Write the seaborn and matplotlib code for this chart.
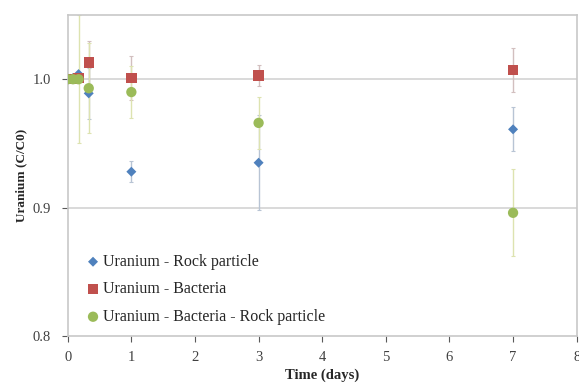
import numpy as np
import pandas as pd
import matplotlib
matplotlib.use("Agg")
import matplotlib.pyplot as plt
import seaborn as sns

# data
time = [0, 0.083, 0.17, 0.33, 1, 3, 7]
rock = [1.000, 1.001, 1.004, 0.989, 0.928, 0.935, 0.961]
rock_err = [0, 0, 0, 0.02, 0.008, 0.037, 0.017]
bact = [1.000, 1.000, 1.001, 1.013, 1.001, 1.003, 1.007]
bact_err = [0, 0, 0, 0.017, 0.017, 0.008, 0.017]
both = [1.000, 1.000, 1.000, 0.993, 0.990, 0.966, 0.896]
both_err = [0, 0, 0.05, 0.035, 0.02, 0.02, 0.034]

names = ["Uranium - Rock particle", "Uranium - Bacteria",
         "Uranium - Bacteria - Rock particle"]
colors = ["#4F81BD", "#C0504D", "#9BBB59"]
err_colors = ["#B8C4D4", "#D2BFBF", "#DDE3B0"]
markers = ["D", "s", "o"]
sizes = [26, 55, 55]

df = pd.concat([
    pd.DataFrame({"t": time, "u": v, "err": e, "series": n})
    for v, e, n in zip([rock, bact, both], [rock_err, bact_err, both_err], names)
])

sns.set_style("white")
plt.rcParams["font.family"] = ["Liberation Serif", "DejaVu Serif"]

fig = plt.figure(figsize=(5.79, 3.85), dpi=100)
ax = fig.add_axes([0.117, 0.127, 0.879, 0.834])

ax.axhline(1.0, color="#D9D9D9", lw=1.4, zorder=0)
ax.axhline(0.9, color="#D9D9D9", lw=1.4, zorder=0)

for n, ec in zip(names, err_colors):
    d = df[df.series == n]
    ax.errorbar(d.t, d.u, yerr=d.err, fmt="none", ecolor=ec, elinewidth=1.0,
                capsize=1.5, capthick=0.8, zorder=1)

for n, c, m, s in zip(names, colors, markers, sizes):
    d = df[df.series == n]
    sns.scatterplot(data=d, x="t", y="u", color=c, marker=m, s=s,
                    edgecolor="none", label=n, ax=ax, zorder=3)

ax.set_xlim(0, 8)
ax.set_ylim(0.8, 1.05)
ax.set_xticks(range(0, 9))
ax.set_yticks([0.8, 0.9, 1.0])
ax.set_yticklabels(["0.8", "0.9", "1.0"])
ax.tick_params(axis="both", labelsize=10.5, colors="#595959", length=4,
               width=0.8, direction="out", left=True, bottom=True)
ax.tick_params(axis="y", pad=8)
ax.tick_params(axis="x", pad=7)
ax.tick_params(axis="both", labelcolor="#404040")
for sp in ax.spines.values():
    sp.set_color("#C8C8C8")
    sp.set_linewidth(1.2)

ax.set_xlabel("Time (days)", fontsize=10.5, fontweight="bold", labelpad=3)
ax.set_ylabel("Uranium (C/C0)", fontsize=9.5, fontweight="bold", labelpad=4)

leg = ax.legend(loc="lower left", bbox_to_anchor=(0.012, 0.0), frameon=False,
                fontsize=11.5, labelspacing=0.72, handletextpad=0.1,
                handlelength=1.0, borderaxespad=0.3)
for t in leg.get_texts():
    t.set_color("#262626")

fig.savefig("out.png", dpi=100)
